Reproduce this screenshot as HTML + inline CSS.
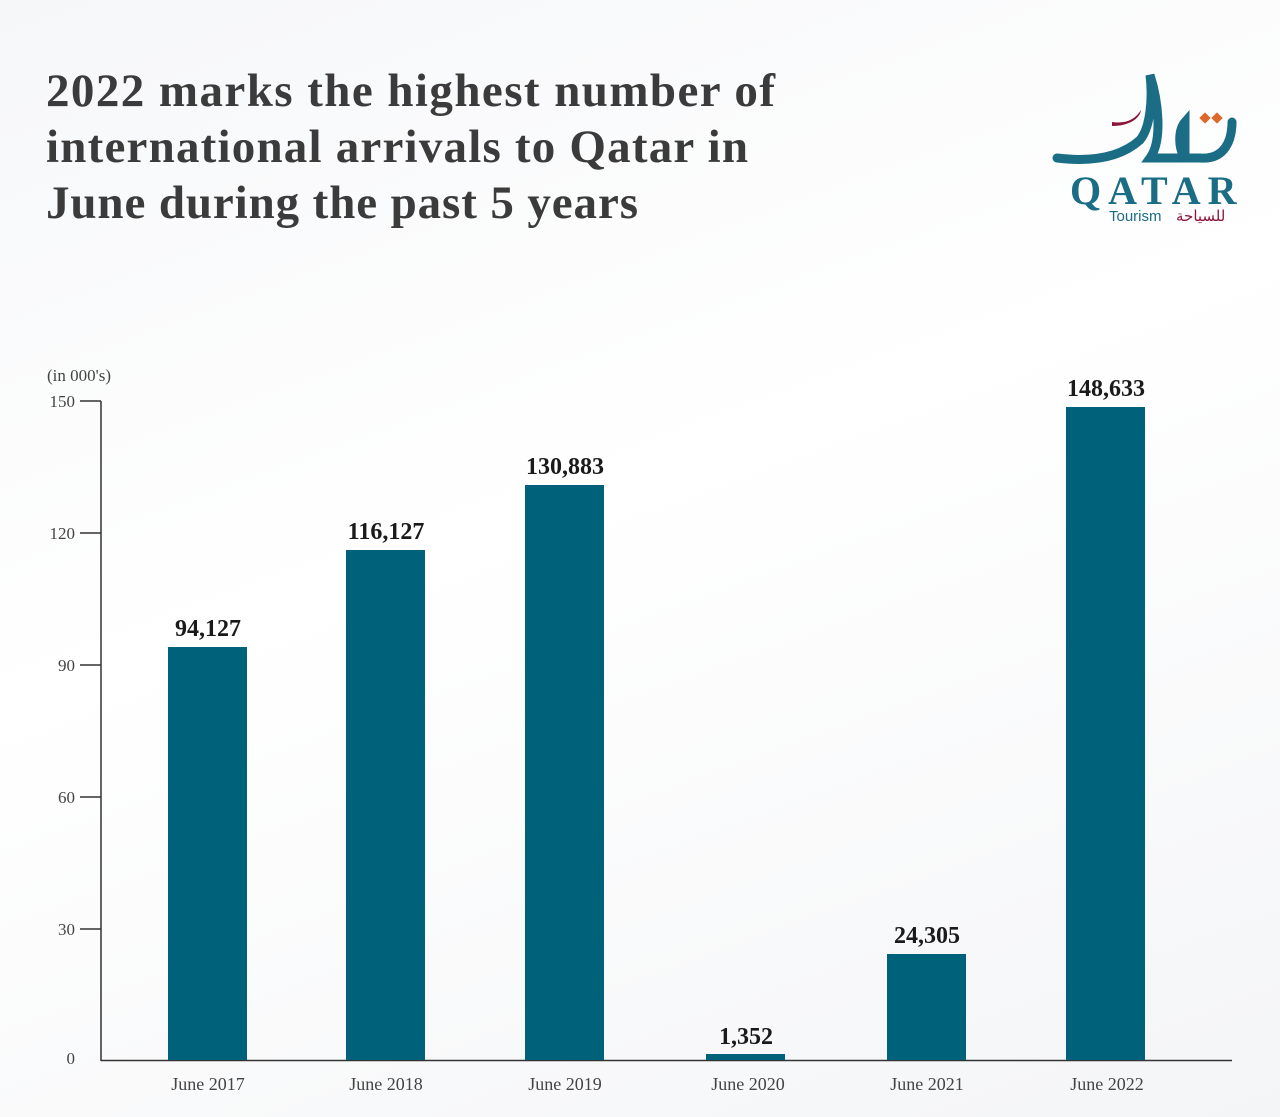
<!DOCTYPE html>
<html><head><meta charset="utf-8"><style>
body{margin:0;width:1280px;height:1117px;background:linear-gradient(160deg,#f6f7f9,#ffffff 45%,#f4f5f7);font-family:"Liberation Serif",serif;overflow:hidden}
</style></head><body>
<svg width="1280" height="1117" xmlns="http://www.w3.org/2000/svg" style="position:absolute;left:0;top:0">
<g font-family="Liberation Serif" font-weight="bold" fill="#3b3b3b" font-size="47">
<text x="46" y="106" textLength="729" lengthAdjust="spacing">2022 marks the highest number of</text>
<text x="46" y="162" textLength="702" lengthAdjust="spacing">international arrivals to Qatar in</text>
<text x="46" y="218" textLength="592" lengthAdjust="spacing">June during the past 5 years</text>
</g>
<g>
<path d="M1057 158 C1090 162 1120 158 1140 140 C1150 128 1153 100 1150 75 C1158 100 1163 140 1150 158 L1185 158 C1178 148 1178 130 1185 122 L1185 158 L1200 158 C1225 160 1232 140 1232 122" fill="none" stroke="#1a6d84" stroke-width="9" stroke-linecap="round"/>
<path d="M1112 122 C1125 124 1135 120 1141 110 C1140 118 1130 126 1112 126 Z" fill="#8b1538"/>
<rect x="1201" y="114" width="8" height="8" fill="#e0672a" transform="rotate(45 1205 118)"/>
<rect x="1213" y="114" width="8" height="8" fill="#e0672a" transform="rotate(45 1217 118)"/>
<text x="1070" y="204" font-family="Liberation Serif" font-size="40" font-weight="600" fill="#1a6d84" letter-spacing="7">QATAR</text>
<text x="1109" y="221" font-family="Liberation Sans" font-size="15" fill="#1a6d84">Tourism</text>
<text x="1176" y="221" font-family="DejaVu Sans" font-size="15" fill="#8b1538">للسياحة</text>
</g>
<g font-family="Liberation Serif" font-size="17" fill="#444">
<text x="47" y="381">(in 000's)</text>
<text x="75" y="407" text-anchor="end">150</text>
<text x="75" y="539" text-anchor="end">120</text>
<text x="75" y="671" text-anchor="end">90</text>
<text x="75" y="803" text-anchor="end">60</text>
<text x="75" y="935" text-anchor="end">30</text>
<text x="75" y="1064" text-anchor="end">0</text>
</g>
<g stroke="#333" stroke-width="1.5">
<line x1="101" y1="401" x2="101" y2="1061"/>
<line x1="80" y1="401" x2="101" y2="401"/>
<line x1="80" y1="533" x2="101" y2="533"/>
<line x1="80" y1="665" x2="101" y2="665"/>
<line x1="80" y1="797" x2="101" y2="797"/>
<line x1="80" y1="929" x2="101" y2="929"/>
<line x1="101" y1="1060.5" x2="1232" y2="1060.5"/>
</g>
<g fill="#00627a">
<rect x="168" y="647" width="79" height="413"/>
<rect x="346" y="550" width="79" height="510"/>
<rect x="525" y="485" width="79" height="575"/>
<rect x="706" y="1054" width="79" height="6"/>
<rect x="887" y="954" width="79" height="106"/>
<rect x="1066" y="407" width="79" height="653"/>
</g>
<g font-family="Liberation Serif" font-weight="bold" font-size="24" fill="#1a1a1a" text-anchor="middle">
<text x="208" y="636">94,127</text>
<text x="386" y="539">116,127</text>
<text x="565" y="474">130,883</text>
<text x="746" y="1044">1,352</text>
<text x="927" y="943">24,305</text>
<text x="1106" y="396">148,633</text>
</g>
<g font-family="Liberation Serif" font-size="18" fill="#444" text-anchor="middle">
<text x="208" y="1090">June 2017</text>
<text x="386" y="1090">June 2018</text>
<text x="565" y="1090">June 2019</text>
<text x="748" y="1090">June 2020</text>
<text x="927" y="1090">June 2021</text>
<text x="1107" y="1090">June 2022</text>
</g>
</svg>
</body></html>
